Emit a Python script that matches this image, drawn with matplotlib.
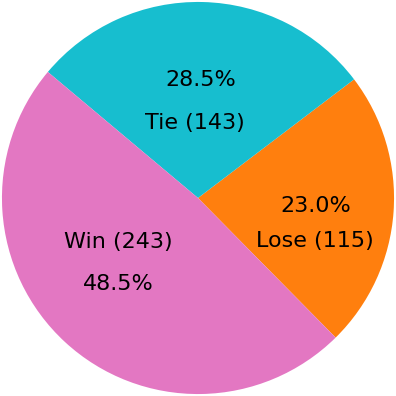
import numpy as np
import matplotlib
matplotlib.use("Agg")
import matplotlib.pyplot as plt

# data (counter-clockwise order starting at lower right)
categories = ["Lose", "Tie", "Win"]
counts = [115, 143, 243]
colors = ["#ff7f0e", "#17becf", "#e377c2"]
# label above (+) or below (-) the percentage
label_shift = [-0.175, -0.215, 0.215]

total = sum(counts)
start = -45.4

fig = plt.figure(figsize=(3.96, 3.96), dpi=100)
ax = fig.add_axes([0, 0, 1, 1])

wedges, _ = ax.pie(counts, colors=colors, startangle=start, counterclock=True,
                   radius=1.0, wedgeprops=dict(linewidth=0))

for w, cat, n, dy in zip(wedges, categories, counts, label_shift):
    mid = np.deg2rad((w.theta1 + w.theta2) / 2)
    px, py = 0.6 * np.cos(mid), 0.6 * np.sin(mid)
    ax.text(px, py, f"{100 * n / total:.1f}%", ha="center", va="center",
            fontsize=16, color="black")
    ax.text(px - 0.03 * (dy < 0 and cat == "Tie"), py + dy, f"{cat} ({n})",
            ha="center", va="center", fontsize=16, color="black")

ax.set_xlim(-1.01, 1.01)
ax.set_ylim(-1.01, 1.01)
ax.set_aspect("equal")
ax.axis("off")

fig.savefig("out.png", dpi=100, facecolor="white")
